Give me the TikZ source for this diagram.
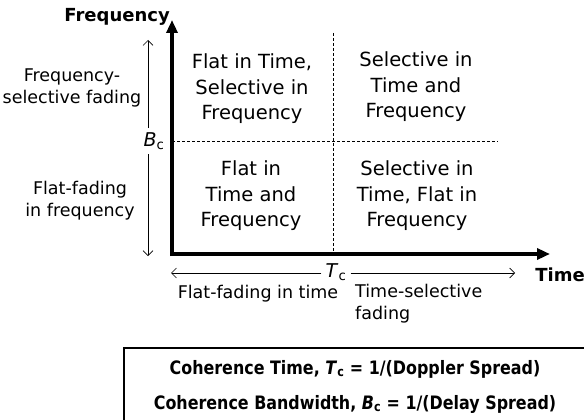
\documentclass[tikz,border=0pt]{standalone}
\usepackage{fontspec}
\setmainfont{DejaVu Sans}
\newfontfamily\eqfont[FakeStretch=0.86]{DejaVu Sans}
\usetikzlibrary{arrows.meta}
\begin{document}
\begin{tikzpicture}[x=1pt,y=-1pt,
  every node/.style={font=\fontsize{19}{25}\selectfont, inner sep=0pt},
  quad/.style={align=center, font=\fontsize{19.5}{25.5}\selectfont},
  side/.style={align=center, font=\fontsize{17.5}{22}\selectfont},
  lbl/.style={font=\fontsize{18}{22}\selectfont\bfseries},
  eqn/.style={font=\eqfont\fontsize{18.5}{20}\selectfont\bfseries},
  axis/.style={line width=4pt, -{Triangle[length=13pt,width=11pt]}},
  tick/.style={line width=0.6pt, -{Straight Barb[length=5pt,width=10pt]}},
  gridline/.style={line width=0.6pt, dash pattern=on 3pt off 2pt}]
\useasboundingbox (0,0) rectangle (584,420);
% axes
\coordinate (O) at (172,254);
\coordinate (Ytop) at (172,20);
\coordinate (Xend) at (550,254);
\draw[axis] ([yshift=-2pt]O) -- (Ytop);
\draw[axis] ([xshift=-2pt]O) -- (Xend);
\node[lbl, anchor=base east] (freq) at (170,22) {Frequency};
\node[lbl, anchor=base east] (time) at (585,281) {Time};
% grid lines
\coordinate (vtop) at (333,33);
\coordinate (vbot) at (333,254);
\coordinate (hl) at (172,141);
\coordinate (hr) at (498,141);
\draw[gridline] (vtop) -- (vbot);
\draw[gridline] (hl) -- (hr);
% quadrants
\node[quad] (q1) at (252,89) {Flat in Time,\\Selective in\\Frequency};
\node[quad] (q2) at (416,87) {Selective in\\Time and\\Frequency};
\node[quad] (q3) at (251,196) {Flat in\\Time and\\Frequency};
\node[quad] (q4) at (417,196) {Selective in\\Time, Flat in\\Frequency};
% frequency side
\node (Bc) at (154,141) {\textit{B}\textsubscript{c}};
\coordinate (ftop) at (148,40);
\coordinate (fbot) at (148,256);
\draw[tick] (148,128) -- (ftop);
\draw[tick] (148,154) -- (fbot);
\node[side] (fsel) at (72,88) {Frequency-\\selective fading};
\node[side] (fflat) at (80,201) {Flat-fading\\in frequency};
% time side
\node (Tc) at (336,272) {\textit{T}\textsubscript{c}};
\coordinate (tleft) at (171,273);
\coordinate (tright) at (515,273);
\draw[tick] (Tc.west) ++(-4,1) -- (tleft);
\draw[tick] (Tc.east) ++(4,1) -- (tright);
\node[side, anchor=base] (tflat) at (258,298) {Flat-fading in time};
\node[side, anchor=north west, align=left] (tsel) at (355,284) {Time-selective\\fading};
% definitions box
\draw[line width=1.2pt] (124,430) -- (124,348) -- (600,348);
\node[eqn] (ct) at (355,369) {Coherence Time, \textit{T}\textsubscript{c} = 1/(Doppler Spread)};
\node[eqn] (cb) at (355,404) {Coherence Bandwidth, \textit{B}\textsubscript{c} = 1/(Delay Spread)};
\end{tikzpicture}
\end{document}
